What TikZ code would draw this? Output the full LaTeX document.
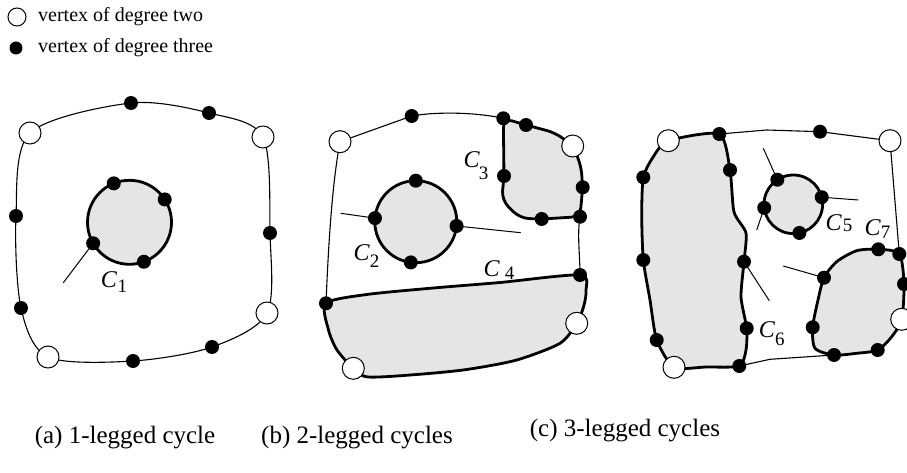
\documentclass[tikz,border=0pt]{standalone}
\usepackage{fontspec}
\setmainfont{Liberation Serif}
\definecolor{cycfill}{gray}{0.9}
\newcommand\cyclab[3]{\textit{C}\kern#3pt\raisebox{-#2pt}{\fontsize{19}{19}\selectfont #1}}
\begin{document}
\begin{tikzpicture}[x=1pt,y=-1pt,
  thinedge/.style={line width=1.1pt},
  cyc/.style={line width=2.8pt, fill=cycfill, line join=round},
  dot/.style={circle, fill=black, inner sep=0pt, minimum size=14pt},
  hole/.style={circle, draw=black, fill=white, line width=1pt, inner sep=0pt, minimum size=22pt},
  leg/.style={line width=1pt},
  lab/.style={font=\fontsize{24}{24}\selectfont, inner sep=0pt},
  legtext/.style={font=\fontsize{20}{20}\selectfont, inner sep=0pt, anchor=west},
  caption/.style={font=\fontsize{25}{25}\selectfont, inner sep=0pt}]
\useasboundingbox (0,0) rectangle (907,473);

% ---------- legend ----------
\node[hole, minimum size=18pt] (lg2) at (17,17) {};
\node[legtext] (lt2) at (38,17) {vertex of degree two};
\node[dot, minimum size=13pt] (lg3) at (16,48) {};
\node[legtext] (lt3) at (38,48) {vertex of degree three};

% ---------- (a) one-legged cycle ----------
\coordinate (a1) at (30,133);
\coordinate (a2) at (131,103);
\coordinate (a3) at (209,113);
\coordinate (a4) at (263,137);
\coordinate (a5) at (270,233);
\coordinate (a6) at (267,313);
\coordinate (a7) at (212,347);
\coordinate (a8) at (133,361);
\coordinate (a9) at (48,357);
\coordinate (a10) at (21,308);
\coordinate (a11) at (16,216);
\draw[thinedge] plot[smooth cycle, tension=0.5] coordinates {(a1) (a2) (a3) (a4) (a5) (a6) (a7) (a8) (a9) (a10) (a11)};

\coordinate (ca) at (129.5,222.3);
\draw[cyc] (ca) circle[radius=42];
\begin{scope}[shift={(ca)}]
  \coordinate (p1) at (-112:42);
  \coordinate (p2) at (-33:42);
  \coordinate (p3) at (150:42);
  \coordinate (p4) at (70:42);
\end{scope}
\coordinate (la) at (63.3,282.7);
\draw[leg] (p3) -- (la);

\foreach \n in {a1,a4,a6,a9} \node[hole] (v-\n) at (\n) {};
\foreach \n in {a2,a3,a5,a7,a8,a10,a11,p1,p2,p3,p4} \node[dot] (v-\n) at (\n) {};
\node[lab] (C1) at (114,282) {\cyclab{1}{5}{0.5}};

% ---------- (b) two-legged cycles ----------
\coordinate (b1) at (340,141.7);
\coordinate (b2) at (411.7,116);
\coordinate (b3) at (503.3,118.3);
\coordinate (b4) at (526,125);
\coordinate (b5) at (572.7,146);
\coordinate (b6) at (582.7,187.3);
\coordinate (b7) at (580,216.7);
\coordinate (b8) at (541.7,219);
\coordinate (b9) at (504,176);
\coordinate (b10) at (580,275);
\coordinate (b11) at (576.7,323.3);
\coordinate (b12) at (353.3,368.3);
\coordinate (b13) at (326,303.3);

% C4
\draw[cyc] plot[smooth cycle, tension=0.45] coordinates {(b13) (366.7,294.5) (433.3,288) (500,282.5) (b10) (586,291) (583.5,307) (b11) (560,343.3) (516.7,360) (466.7,369.5) (416.7,374.5) (368,377) (b12) (337,350) (328.5,330)};
% C3
\draw[cyc, rounded corners=9pt] (b3) -- (b4) -- (556,133) -- (b5) -- (581,165) -- (b6) -- (b7) -- (b8) -- (520,218.3) -- (501.7,200) -- (b9) -- cycle;
% outer thin boundary
\draw[thinedge] (b13) .. controls (329,230) and (333,180) .. (b1) -- (b2) .. controls (440,111) and (480,113) .. (b3);
\draw[thinedge] (b7) .. controls (577,235) and (580,255) .. (b10);

% C2
\coordinate (cb) at (415.8,221.7);
\draw[cyc] (cb) circle[radius=41];
\begin{scope}[shift={(cb)}]
  \coordinate (q1) at (-90:41);
  \coordinate (q2) at (-175:41);
  \coordinate (q3) at (6:41);
  \coordinate (q4) at (97:41);
\end{scope}
\coordinate (lb1) at (340.7,213.3);
\coordinate (lb2) at (520.7,232.7);
\draw[leg] (q2) -- (lb1);
\draw[leg] (q3) -- (lb2);

\foreach \n in {b1,b5,b11,b12} \node[hole] (v-\n) at (\n) {};
\foreach \n in {b2,b3,b4,b6,b7,b8,b9,b10,b13,q1,q2,q3,q4} \node[dot] (v-\n) at (\n) {};
\node[lab] (C2) at (366.5,256.5) {\cyclab{2}{7}{0}};
\node[lab] (C3) at (476,166) {\cyclab{3}{12}{-1}};
\node[lab] (C4) at (499,270) {\cyclab{4}{3}{5}};

% ---------- (c) three-legged cycles ----------
\coordinate (c1) at (668.3,140.7);
\coordinate (c2) at (719.3,134);
\coordinate (c3) at (730,170);
\coordinate (c4) at (744,261.7);
\coordinate (c5) at (746.7,328.3);
\coordinate (c6) at (739.3,366);
\coordinate (c7) at (674,367.3);
\coordinate (c8) at (656.7,340);
\coordinate (c9) at (643.3,260);
\coordinate (c10) at (643.3,177.3);
\coordinate (c11) at (820,131.7);
\coordinate (c12) at (890,140.7);
\coordinate (c13) at (878.3,249.3);
\coordinate (c14) at (899.3,254);
\coordinate (c15) at (904,284);
\coordinate (c16) at (901.7,319.3);
\coordinate (c17) at (877.7,350);
\coordinate (c18) at (834,355);
\coordinate (c19) at (812.7,327.3);
\coordinate (c20) at (824,277.7);

% C6
\draw[cyc] plot[smooth cycle, tension=0.4] coordinates {(c1) (c2) (c3) (734,212) (746,233) (c4) (741,297) (c5) (746,350) (c6) (706,367) (c7) (c8) (650,300) (c9) (641.7,215) (c10) (653.3,156.7)};
% C7
\draw[cyc] plot[smooth cycle, tension=0.45] coordinates {(c13) (c14) (c15) (c16) (891.7,336.7) (c17) (856.7,353.3) (c18) (815,348.3) (c19) (818,300) (c20) (836.7,261.7) (856.7,250.7)};
% thin boundary
\coordinate (ct) at (766.7,130);
\coordinate (cbt) at (770,359.3);
\draw[thinedge] (c2) -- (ct) -- (c11) -- (c12) -- (c14);
\draw[thinedge] (c6) -- (cbt) -- (c18);

% C5
\coordinate (cc) at (793.3,204.3);
\draw[cyc] (cc) circle[radius=29.3];
\begin{scope}[shift={(cc)}]
  \coordinate (r1) at (-123:29.3);
  \coordinate (r2) at (-14:29.3);
  \coordinate (r3) at (173:29.3);
  \coordinate (r4) at (78:29.3);
\end{scope}
\coordinate (lc1) at (763.3,148.3);
\coordinate (lc2) at (858.3,200);
\coordinate (lc3) at (756.7,230);
\coordinate (lc4) at (769.3,300.7);
\coordinate (lc5) at (783.3,266);
\draw[leg] (r1) -- (lc1);
\draw[leg] (r2) -- (lc2);
\draw[leg] (r3) -- (lc3);
\draw[leg] (c4) -- (lc4);
\draw[leg] (c20) -- (lc5);

\foreach \n in {c1,c7,c12,c16} \node[hole] (v-\n) at (\n) {};
\foreach \n in {c2,c3,c4,c5,c6,c8,c9,c10,c11,c13,c14,c15,c17,c18,c19,c20,r1,r2,r3,r4} \node[dot] (v-\n) at (\n) {};
\node[lab] (C5) at (839,223) {\cyclab{5}{1}{1}};
\node[lab] (C7) at (877.5,229) {\cyclab{7}{3}{0}};
\node[lab] (C6) at (771.7,334) {\cyclab{6}{8}{0}};

% ---------- captions ----------
\node[caption] (capa) at (125,438) {(a) 1-legged cycle};
\node[caption] (capb) at (357,438) {(b) 2-legged cycles};
\node[caption] (capc) at (625,431) {(c) 3-legged cycles};
\end{tikzpicture}
\end{document}
